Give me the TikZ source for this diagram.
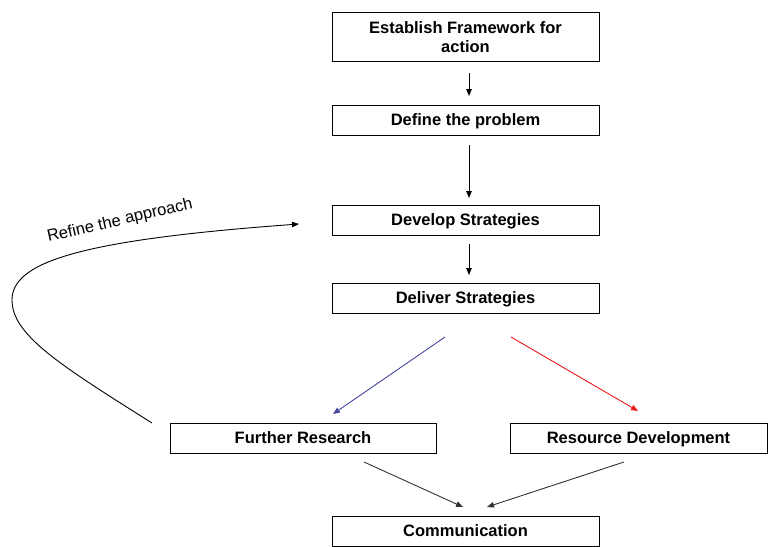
\documentclass[tikz,border=0pt]{standalone}
\usepackage{fontspec}
\setmainfont{Liberation Sans}
\usetikzlibrary{arrows.meta}
\definecolor{myblue}{RGB}{70,70,160}
\definecolor{myred}{RGB}{235,25,25}
\definecolor{mygray}{RGB}{50,50,50}
\begin{document}
\begin{tikzpicture}[x=1pt,y=-1pt,
  box/.style={draw=black,line width=0.9pt,fill=white,inner sep=0pt,font=\fontsize{16.5}{19}\selectfont\bfseries,align=center},
  onebox/.style={box,text height=14pt,text depth=3.5pt},
  arr/.style={line width=0.9pt,-{Triangle[length=7pt,width=5.5pt]}}]
\useasboundingbox (0,0) rectangle (768,546);
\node[box,minimum width=267pt,minimum height=49pt] (est) at (465.5,37) {Establish Framework for\\action};
\node[onebox,minimum width=267pt,minimum height=30pt] (def) at (465.5,120) {Define the problem};
\node[onebox,minimum width=267pt,minimum height=30pt] (dev) at (465.5,220) {Develop Strategies};
\node[onebox,minimum width=267pt,minimum height=30pt] (del) at (465.5,298.5) {Deliver Strategies};
\node[onebox,minimum width=266pt,minimum height=30pt] (fur) at (303,438) {Further Research};
\node[onebox,minimum width=257pt,minimum height=30pt] (res) at (638.5,438) {Resource Development};
\node[onebox,minimum width=267pt,minimum height=30pt] (com) at (465.5,531) {Communication};
\coordinate (a1s) at (469,73); \coordinate (a1e) at (469,96);
\coordinate (a2s) at (469,145); \coordinate (a2e) at (469,198);
\coordinate (a3s) at (469,244); \coordinate (a3e) at (469,275);
\coordinate (bs) at (445,337); \coordinate (be) at (333,414);
\coordinate (rs) at (511,337); \coordinate (re) at (638,411);
\coordinate (fs) at (364,462); \coordinate (fe) at (463,507);
\coordinate (gs) at (624,462); \coordinate (ge) at (487,507);
\coordinate (cs) at (152,423); \coordinate (cm) at (12,300); \coordinate (ce) at (299,224);
\draw[arr] (a1s) -- (a1e);
\draw[arr] (a2s) -- (a2e);
\draw[arr] (a3s) -- (a3e);
\draw[arr,myblue] (bs) -- (be);
\draw[arr,myred] (rs) -- (re);
\draw[arr,mygray] (fs) -- (fe);
\draw[arr,mygray] (gs) -- (ge);
\draw[arr] (cs) .. controls (60,365) and (12,335) .. (cm) .. controls (12,262) and (80,240) .. (ce);
\node[rotate=13,font=\fontsize{16.5}{19}\selectfont,inner sep=0pt] (lbl) at (120,221) {Refine the approach};
\end{tikzpicture}
\end{document}
